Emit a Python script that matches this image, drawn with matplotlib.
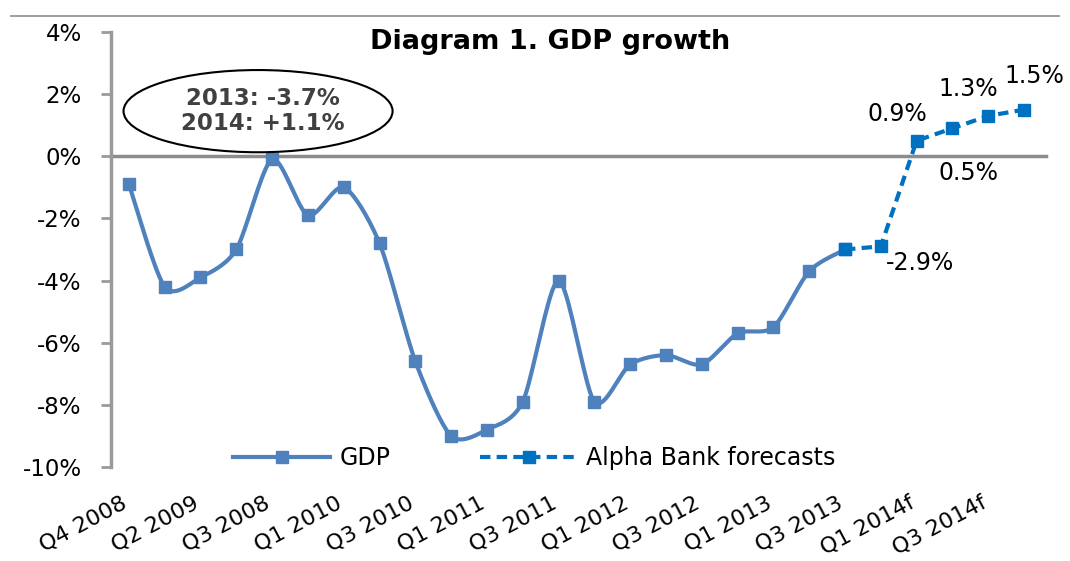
import numpy as np
import matplotlib
matplotlib.use("Agg")
import matplotlib.pyplot as plt
import matplotlib.transforms as mtransforms
from matplotlib.patches import Ellipse
from matplotlib.lines import Line2D

plt.rcParams['font.family'] = ['DejaVu Sans']

tick_labels = ["Q4 2008", "Q2 2009", "Q3 2008", "Q1 2010", "Q3 2010", "Q1 2011",
               "Q3 2011", "Q1 2012", "Q3 2012", "Q1 2013", "Q3 2013", "Q1 2014f", "Q3 2014f"]
gdp = [-0.9, -4.2, -3.9, -3.0, -0.1, -1.9, -1.0, -2.8, -6.6, -9.0, -8.8, -7.9, -4.0,
       -7.9, -6.7, -6.4, -6.7, -5.7, -5.5, -3.7, -3.0]
forecast = [-3.0, -2.9, 0.5, 0.9, 1.3, 1.5]
forecast_start = 20
forecast_labels = ["", "-2.9%", "0.5%", "0.9%", "1.3%", "1.5%"]
yticks = [-10, -8, -6, -4, -2, 0, 2, 4]

gdp_color = "#4F81BD"
fc_color = "#0070C0"


def catmull_rom(x, y, n=20):
    x = np.asarray(x, float); y = np.asarray(y, float)
    px = np.concatenate([[x[0]], x, [x[-1]]])
    py = np.concatenate([[y[0]], y, [y[-1]]])
    xs, ys = [], []
    t = np.linspace(0, 1, n, endpoint=False)
    for i in range(1, len(px) - 2):
        p0, p1, p2, p3 = [np.array([px[j], py[j]]) for j in (i - 1, i, i + 1, i + 2)]
        m1 = (p2 - p0) / 2 * 0.8
        m2 = (p3 - p1) / 2 * 0.8
        h00 = 2 * t**3 - 3 * t**2 + 1
        h10 = t**3 - 2 * t**2 + t
        h01 = -2 * t**3 + 3 * t**2
        h11 = t**3 - t**2
        pts = np.outer(h00, p1) + np.outer(h10, m1) + np.outer(h01, p2) + np.outer(h11, m2)
        xs.extend(pts[:, 0]); ys.extend(pts[:, 1])
    xs.append(x[-1]); ys.append(y[-1])
    return np.array(xs), np.array(ys)


fig = plt.figure(figsize=(10.7, 5.61), dpi=100)
ax = fig.add_axes([0.1037, 0.1676, 0.9738 - 0.1037, 0.943 - 0.1676])

xg = np.arange(len(gdp))
xf = np.arange(forecast_start, forecast_start + len(forecast))

sx, sy = catmull_rom(xg, gdp)
ax.plot(sx, sy, color=gdp_color, lw=3, solid_capstyle='round', zorder=3)
ax.plot(xg, gdp, ls='none', marker='s', ms=8, color=gdp_color, zorder=4)
ax.plot(xf, forecast, color=fc_color, lw=3, ls=(0, (2.5, 1.5)), marker='s', ms=8, zorder=5)

# legend proxies
h1 = Line2D([], [], color=gdp_color, lw=3, marker='s', ms=8)
h2 = Line2D([], [], color=fc_color, lw=3, ls=(0, (2.5, 1.5)), marker='s', ms=8)
ax.legend([h1, h2], ["GDP", "Alpha Bank forecasts"], ncol=2, frameon=False,
          loc='center', bbox_to_anchor=(0.455, 0.02), fontsize=17,
          handlelength=4.1, columnspacing=3.8, handletextpad=0.4)

ax.set_xlim(-0.5, 25.5)
ax.set_ylim(-10, 4)
ax.set_yticks(yticks)
ax.set_yticklabels([f"{v}%" for v in yticks], fontsize=16.5)
ax.set_xticks(np.arange(0, 26, 2))
ax.set_xticklabels(tick_labels, rotation=28, ha='right', va='top', rotation_mode='anchor', fontsize=16)
ax.tick_params(axis='x', length=0, pad=14)
ax.tick_params(axis='y', length=7, width=2, color='#9a9a9a', pad=14)
shift = mtransforms.ScaledTranslation(-8 / 100, -6 / 100, fig.dpi_scale_trans)
for lbl in ax.get_xticklabels():
    lbl.set_transform(lbl.get_transform() + shift)

for s in ['top', 'right', 'bottom']:
    ax.spines[s].set_visible(False)
ax.spines['left'].set_color('#9a9a9a')
ax.spines['left'].set_linewidth(2.5)
ax.axhline(0, color='#8c8c8c', lw=2.5, xmax=1.004, zorder=2, clip_on=False)

ax.text(0.472, 0.977, "Diagram 1. GDP growth", transform=ax.transAxes, ha='center', va='center',
        fontsize=19.5, fontweight='bold')

ell = Ellipse((0.158, 0.818), 0.289, 0.189, transform=ax.transAxes, facecolor='white',
              edgecolor='black', lw=1.5, zorder=6)
ax.add_patch(ell)
ax.text(0.163, 0.818, "2013: -3.7%\n2014: +1.1%", transform=ax.transAxes, ha='center', va='center',
        fontsize=16.5, fontweight='bold', color='#404040', zorder=7, linespacing=1.08)

offsets = {1: (1.1, -0.55), 2: (1.44, -1.05), 3: (-1.54, 0.45), 4: (-0.56, 0.86), 5: (0.3, 1.08)}
for i, lab in enumerate(forecast_labels):
    if not lab:
        continue
    dx, dy = offsets[i]
    ax.text(xf[i] + dx, forecast[i] + dy, lab, ha='center', va='center', fontsize=17,
            clip_on=False)

fig.add_artist(Line2D([0.01, 0.99], [1 - 16 / 561, 1 - 16 / 561], transform=fig.transFigure,
                      color='#8c8c8c', lw=1.2))

fig.savefig("out.png", dpi=100)
